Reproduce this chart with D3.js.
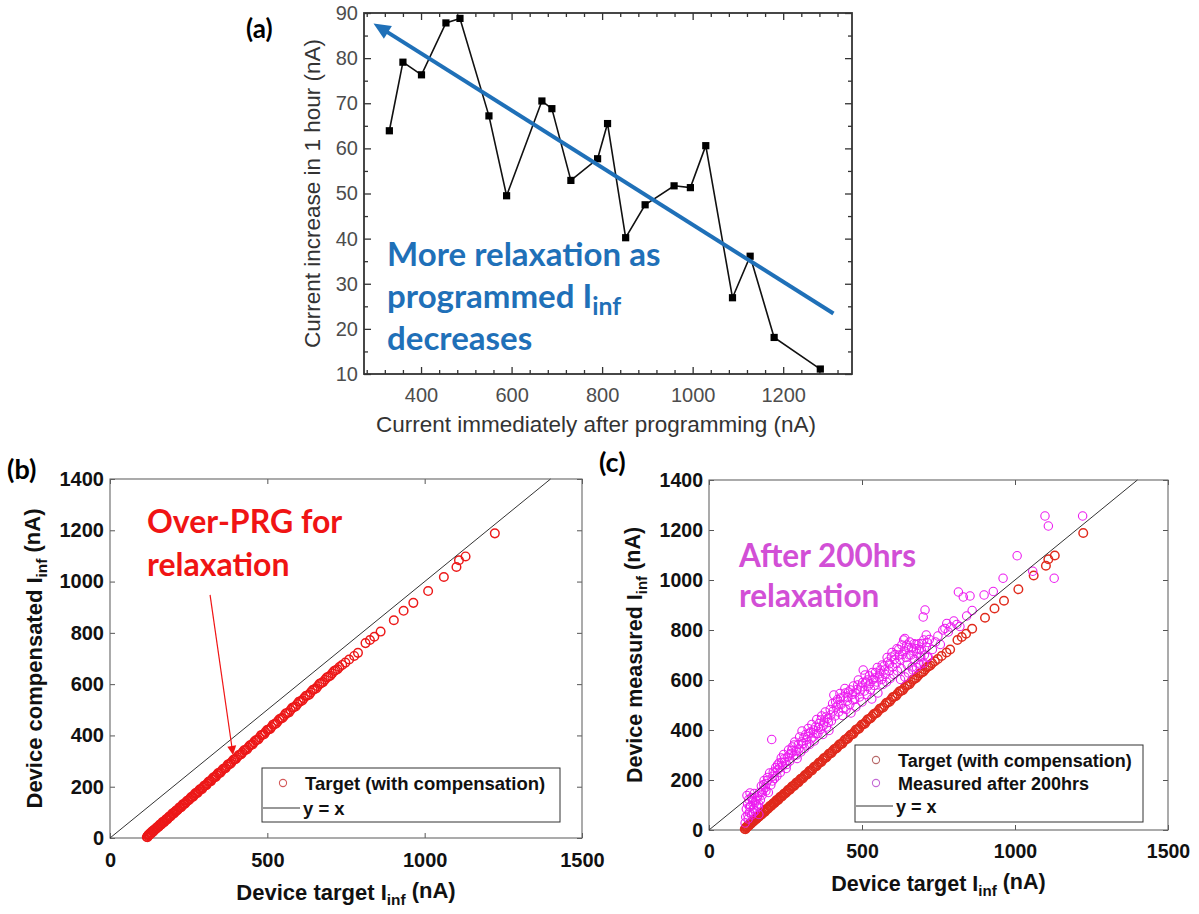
<!DOCTYPE html>
<html><head><meta charset="utf-8">
<script src="https://cdn.jsdelivr.net/npm/d3@7"></script>
<style>body{margin:0;background:#fff;}svg{display:block;}</style>
</head><body>
<svg id="chart" width="1199" height="914"></svg>
<script>
// ---------------- DATA ----------------
// Panel (a): current increase in 1 hour vs current after programming
const relaxX = [330,360,401,455,486,550,589,667,689,731,790,812,852,895,959,995,1029,1088,1127,1180,1282];
const relaxY = [63.9,79.1,76.3,87.8,88.8,67.2,49.5,70.5,68.8,52.9,57.7,65.5,40.2,47.5,51.7,51.3,60.6,26.9,36.1,18.1,11.1];
const aTicksX = [400,600,800,1000,1200];
const aMinorX = [280,320,360,440,480,520,560,640,680,720,760,840,880,920,960,1040,1080,1120,1160,1240,1280,1320];
const aTicksY = [10,20,30,40,50,60,70,80,90];
const aMinorY = [15,25,35,45,55,65,75,85];
const trendFrom = [1311, 23.4];   // blue arrow tail (data units)
const trendTo = [295, 87.7];      // blue arrow head (data units)

// Panels (b),(c): device target vs compensated target [x, y]
const targetPts = [
[117,4],[120,8],[123,11],[126,15],[129,18],[132,21],[136,25],[139,29],[143,33],[147,37],[151,42],[156,47],[160,51],[165,57],[169,61],[174,66],[179,72],[184,77],[189,83],[195,89],[200,95],[206,101],[211,106],[217,113],[223,119],[229,126],[235,132],[241,139],[248,146],[254,153],[261,160],[267,167],[274,175],[281,182],[288,190],[295,197],[302,205],[309,212],[317,221],[324,229],[332,237],[339,245],[347,254],[355,262],[363,271],[371,280],[379,288],[387,297],[396,306],[404,316],[413,325],[421,334],[430,343],[439,353],[448,363],[457,373],[466,382],[475,392],[485,403],[494,413],[504,423],[513,433],[523,444],[533,455],[543,466],[553,476],[563,487],[574,499],[584,510],[595,522],[605,533],[616,545],[627,556],[638,568],[649,580],[660,592],[671,604],[683,617],[694,629],[706,642],[717,654],[729,667],
[119,3],[122,12],[125,12],[128,19],[131,18],[134,26],[138,26],[141,33],[145,34],[149,42],[154,43],[158,52],[163,53],[167,62],[172,62],[177,72],[182,72],[187,83],[192,84],[198,95],[203,96],[209,106],[214,108],[220,119],[226,120],[232,132],[238,134],[245,145],[251,148],[258,160],[264,161],[271,174],[278,176],[285,189],[292,190],[299,204],[306,206],[313,219],[321,222],[328,236],[336,238],[343,252],[351,255],[359,269],[367,272],[375,287],[383,290],[392,305],[400,308],[409,323],[417,327],[426,342],[435,345],[444,361],[453,365],[462,380],[471,384],[480,401],[490,405],[499,421],[509,425],[518,442],[528,447],[538,463],[548,468],[558,485],[569,490],[579,508],[590,513],[600,531],[611,536],[622,554],[633,559],[644,577],[655,583],[666,601],[677,608],[689,626],[700,633],[712,651],[723,658],
[738,675],[748,684],[760,696],[776,710],[788,722],[812,760],[826,772],[840,785],[860,805],[902,849],[933,886],[964,917],[1011,963],[1061,1018],[1101,1057],[1109,1083],[1130,1098],[1223,1188]
];
// Panel (c): measured after 200 hrs [x, y]
const measuredPts = [
[118,28],[120,52],[122,84],[124,138],[126,104],[128,44],[130,122],[132,70],[134,148],[136,96],[139,60],[141,128],[143,112],[146,86],[148,146],[151,76],[153,118],[156,100],[158,136],[161,92],[163,62],[165,150],
[168,120],[171,176],[174,140],[177,160],[180,198],[184,170],[187,186],[191,210],[194,150],[198,228],[205,362],[207,196],[210,232],[214,206],[218,250],[222,216],[225,242],[229,268],[233,230],[236,288],[240,256],[244,302],[248,272],[252,246],[256,292],
[260,320],[264,276],[268,306],[272,332],[276,296],[280,352],[284,316],[288,286],[292,342],[296,372],[300,312],[304,396],[308,346],[312,326],[316,382],[320,362],[324,406],[328,342],[332,392],[336,422],[340,372],[344,356],[348,412],[352,442],[356,386],[360,426],[364,402],[368,456],[372,382],[376,432],[380,472],[384,412],[388,446],[392,398],[396,482],[400,436],
[404,506],[408,540],[412,456],[416,492],[420,522],[424,472],[428,546],[432,502],[436,458],[440,532],[444,566],[448,482],[452,516],[456,552],[460,502],[464,468],[468,542],[472,576],[476,522],[480,492],[484,562],[488,600],[492,532],[496,572],[500,512],[504,640],[508,556],[512,592],[516,542],[520,576],[524,616],[528,562],[532,524],[536,602],[540,578],[544,630],[548,592],[552,548],[556,612],[560,640],
[564,602],[568,582],[572,656],[576,622],[580,592],[584,672],[588,636],[592,606],[596,692],[600,652],[604,622],[608,702],[612,666],[616,636],[620,722],[624,682],[628,646],[632,702],[636,760],[640,766],[644,690],[648,660],[652,730],[656,752],[660,700],[664,652],[668,716],[672,682],[676,742],[680,706],[684,668],[688,722],[692,692],[696,746],[700,852],[704,700],[706,880],[710,732],[713,750],[716,692],[720,762],
[626,602],[640,612],[652,628],[666,640],[678,650],[690,662],[702,668],[714,690],
[127,60],[133,92],[138,130],[145,70],[150,110],[157,128],[162,104],[172,150],[179,182],[186,156],[193,200],[202,180],[209,215],[216,230],[224,260],[231,248],[238,270],[246,285],[254,262],[262,300],[270,318],[278,340],[286,300],[294,325],[302,352],[310,370],[318,340],[326,386],[334,365],[342,400],[350,385],[358,410],[366,440],[374,418],[382,452],[390,430],[398,460],[406,476],[414,512],[422,500],[430,528],[438,486],[446,548],[454,530],[462,560],[470,520],[478,548],[486,580],[494,556],[502,590],[510,620],[518,600],[526,585],[534,630],[542,608],[550,650],[558,625],[566,660],[574,640],[582,690],[590,665],[598,710],[606,682],[614,725],[622,700],[630,740],[638,716],[646,740],[654,700],[662,728],[670,745],[678,725],[686,745],[694,720],[702,760],[710,780],
[730,722],[740,752],[748,776],[756,742],[764,800],[771,806],[777,826],[782,792],[790,812],[800,836],[810,822],[815,952],[820,814],[831,932],[842,856],[853,936],[860,878],
[899,940],[929,954],[961,1007],[1007,1097],[1058,1035],[1098,1256],[1109,1216],[1128,1007],[1221,1256]
];
const bcTicksX = [0,500,1000,1500];
const bcTicksY = [0,200,400,600,800,1000,1200,1400];
const identity = [0,1400];
const overArrowFrom = [318,948], overArrowTo = [391,324];

// ---------------- HELPERS ----------------
const svg = d3.select("#chart");
const FONT = "'Liberation Sans', Arial, Helvetica, sans-serif";
const ANN = "Lato, 'Open Sans', sans-serif";
const fmt = d3.format("d");

function styleAxis(g, o) {
  g.select(".domain").remove();
  g.attr("font-family", null).attr("font-size", null);
  g.selectAll(".tick line").attr("stroke", o.stroke).attr("stroke-width", o.sw);
  g.selectAll(".tick text").attr("font-family", FONT).attr("font-size", o.fs)
    .attr("font-weight", o.fw).attr("fill", o.fill);
}
function arrow(g, p0, p1, color, width, headLen, headHalf) {
  const dx = p1[0]-p0[0], dy = p1[1]-p0[1], L = Math.hypot(dx,dy);
  const ux = dx/L, uy = dy/L, nx = -uy, ny = ux;
  const bx = p1[0]-ux*headLen, by = p1[1]-uy*headLen;
  g.append("line").attr("x1",p0[0]).attr("y1",p0[1]).attr("x2",bx+ux*2).attr("y2",by+uy*2)
    .attr("stroke",color).attr("stroke-width",width);
  g.append("path").attr("d",`M${p1[0]},${p1[1]}L${bx+nx*headHalf},${by+ny*headHalf}L${bx-nx*headHalf},${by-ny*headHalf}Z`)
    .attr("fill",color);
}
function subText(g, parts, attrs) {
  const t = g.append("text");
  Object.entries(attrs).forEach(([k,v]) => t.attr(k,v));
  parts.forEach(p => {
    const s = t.append("tspan").text(p.t);
    if (p.sub) s.attr("font-size", p.size || "70%").attr("dy", p.dy || "0.35em");
    if (p.back) s.attr("dy", p.back);
  });
  return t;
}

// ---------------- PANEL (a) ----------------
const xA = d3.scaleLinear().domain([274,1352]).range([364,852]);
const yA = d3.scaleLinear().domain([10,90]).range([374,13]);
const gA = svg.append("g");
const stA = {stroke:"#333", sw:1.3, fs:20, fw:400, fill:"#4d4d4d"};
const [ax0, ax1] = xA.range(), [ay0, ay1] = yA.range();
gA.append("g").attr("transform",`translate(0,${ay0})`).call(d3.axisBottom(xA).tickValues(aMinorX).tickSize(-4).tickFormat("")).call(styleAxis, stA);
gA.append("g").attr("transform",`translate(0,${ay0})`).call(d3.axisBottom(xA).tickValues(aTicksX).tickSize(-7).tickPadding(14).tickFormat(fmt)).call(styleAxis, stA);
gA.append("g").attr("transform",`translate(0,${ay1})`).call(d3.axisTop(xA).tickValues(aMinorX).tickSize(-4).tickFormat("")).call(styleAxis, stA);
gA.append("g").attr("transform",`translate(0,${ay1})`).call(d3.axisTop(xA).tickValues(aTicksX).tickSize(-7).tickFormat("")).call(styleAxis, stA);
gA.append("g").attr("transform",`translate(${ax0},0)`).call(d3.axisLeft(yA).tickValues(aMinorY).tickSize(-4).tickFormat("")).call(styleAxis, stA);
gA.append("g").attr("transform",`translate(${ax0},0)`).call(d3.axisLeft(yA).tickValues(aTicksY).tickSize(-7).tickPadding(6).tickFormat(fmt)).call(styleAxis, stA);
gA.append("g").attr("transform",`translate(${ax1},0)`).call(d3.axisRight(yA).tickValues(aMinorY).tickSize(-4).tickFormat("")).call(styleAxis, stA);
gA.append("g").attr("transform",`translate(${ax1},0)`).call(d3.axisRight(yA).tickValues(aTicksY).tickSize(-7).tickFormat("")).call(styleAxis, stA);
gA.append("rect").attr("x",ax0).attr("y",ay1).attr("width",ax1-ax0).attr("height",ay0-ay1)
  .attr("fill","none").attr("stroke","#333").attr("stroke-width",1.8);

const relax = relaxX.map((x,i)=>[x, relaxY[i]]);
gA.append("path").datum(relax).attr("d", d3.line().x(d=>xA(d[0])).y(d=>yA(d[1])))
  .attr("fill","none").attr("stroke","#111").attr("stroke-width",1.6);
gA.selectAll("rect.pt").data(relax).join("rect").attr("class","pt")
  .attr("x",d=>xA(d[0])-3.6).attr("y",d=>yA(d[1])-3.6).attr("width",7.2).attr("height",7.2).attr("fill","#000");

arrow(gA, [xA(trendFrom[0]), yA(trendFrom[1])], [xA(trendTo[0]), yA(trendTo[1])], "#1f70b8", 4, 17, 7.5);

gA.append("text").attr("x",(ax0+ax1)/2-12).attr("y",432).attr("text-anchor","middle")
  .attr("font-family",FONT).attr("font-size",22.5).attr("fill","#333").text("Current immediately after programming (nA)");
gA.append("text").attr("transform",`translate(320,${(ay0+ay1)/2}) rotate(-90)`).attr("text-anchor","middle")
  .attr("font-family",FONT).attr("font-size",22.5).attr("fill","#333").text("Current increase in 1 hour (nA)");

const blue = {"font-family":ANN,"font-weight":700,"font-size":33,"fill":"#1f70b8"};
subText(gA,[{t:"More relaxation as"}],{...blue, x:xA(325), y:yA(33.9)});
subText(gA,[{t:"programmed I"},{t:"inf",sub:true,size:"75%",dy:"0.28em"}],{...blue, x:xA(325), y:yA(24.6)});
subText(gA,[{t:"decreases"}],{...blue, x:xA(325), y:yA(15.3)});
svg.append("text").attr("x",246).attr("y",38).attr("font-family",ANN).attr("font-weight",700)
  .attr("font-size",26).attr("fill","#000").text("(a)");

// ---------------- PANELS (b),(c) ----------------
function scatterPanel(cfg) {
  const x = d3.scaleLinear().domain([0,1500]).range(cfg.xr);
  const y = d3.scaleLinear().domain([0,1400]).range(cfg.yr);
  const g = svg.append("g");
  const st = {stroke:"#555", sw:1, fs:cfg.fs, fw:700, fill:"#111"};
  const [x0,x1] = x.range(), [y0,y1] = y.range();
  g.append("g").attr("transform",`translate(0,${y0})`).call(d3.axisBottom(x).tickValues(bcTicksX).tickSize(-5).tickPadding(cfg.xPad).tickFormat(fmt)).call(styleAxis, st);
  g.append("g").attr("transform",`translate(0,${y1})`).call(d3.axisTop(x).tickValues(bcTicksX).tickSize(-5).tickFormat("")).call(styleAxis, st);
  g.append("g").attr("transform",`translate(${x0},0)`).call(d3.axisLeft(y).tickValues(bcTicksY).tickSize(-5).tickPadding(6).tickFormat(fmt)).call(styleAxis, st);
  g.append("g").attr("transform",`translate(${x1},0)`).call(d3.axisRight(y).tickValues(bcTicksY).tickSize(-5).tickFormat("")).call(styleAxis, st);
  g.append("rect").attr("x",x0).attr("y",y1).attr("width",x1-x0).attr("height",y0-y1)
    .attr("fill","none").attr("stroke","#666").attr("stroke-width",1.1);

  g.selectAll("circle.t").data(targetPts).join("circle").attr("class","t")
    .attr("cx",d=>x(d[0])).attr("cy",d=>y(d[1])).attr("r",4.3)
    .attr("fill","none").attr("stroke",cfg.targetColor).attr("stroke-width",1.45);
  if (cfg.measured) {
    g.selectAll("circle.m").data(measuredPts).join("circle").attr("class","m")
      .attr("cx",d=>x(d[0])).attr("cy",d=>y(d[1])).attr("r",4.2)
      .attr("fill","none").attr("stroke","#ec1cf0").attr("stroke-width",1.1);
  }
  g.append("line").attr("x1",x(identity[0])).attr("y1",y(identity[0])).attr("x2",x(identity[1])).attr("y2",y(identity[1]))
    .attr("stroke","#333").attr("stroke-width",1);

  // titles
  const tAttrs = {"font-family":FONT,"font-weight":700,"font-size":cfg.tfs,"fill":"#111","text-anchor":"middle"};
  subText(g,[{t:"Device target I"},{t:"inf",sub:true},{t:" (nA)",back:"-0.35em"}],{...tAttrs, x:(x0+x1)/2, y:cfg.xTitleY});
  subText(g,[{t:cfg.yTitle},{t:"inf",sub:true},{t:" (nA)",back:"-0.35em"}],{...tAttrs, transform:`translate(${cfg.yTitleX},${(y0+y1)/2}) rotate(-90)`});

  // legend
  const L = cfg.legend;
  const lg = g.append("g");
  lg.append("rect").attr("x",L.x).attr("y",L.y).attr("width",L.w).attr("height",L.h)
    .attr("fill","#fff").attr("stroke","#333").attr("stroke-width",1);
  L.items.forEach((it,i) => {
    const cy = L.y + L.first + i*L.step;
    if (it.type === "circle") {
      lg.append("circle").attr("cx",L.x+21).attr("cy",cy).attr("r",3.6).attr("fill","none")
        .attr("stroke",it.color).attr("stroke-width",1.1);
    } else {
      lg.append("line").attr("x1",L.x+1).attr("x2",L.x+38).attr("y1",cy).attr("y2",cy)
        .attr("stroke","#333").attr("stroke-width",1.2);
    }
    lg.append("text").attr("x",L.x+(it.type==="circle"?43:41)).attr("y",cy+7).attr("font-family",FONT)
      .attr("font-weight",700).attr("font-size",L.fs).attr("fill","#111").text(it.label);
  });
  return {x, y, g};
}

const B = scatterPanel({xr:[110,582], yr:[838,479], fs:20, tfs:22, xPad:15, xTitleY:900, yTitleX:42,
  yTitle:"Device compensated I", targetColor:"#ec1818", measured:false,
  legend:{x:262,y:768,w:298,h:54,first:15,step:25,fs:18.5,items:[
    {type:"circle",color:"#d45a5a",label:"Target (with compensation)"},
    {type:"line",label:"y = x"}]}});
const C = scatterPanel({xr:[709,1168], yr:[830,480], fs:19.5, tfs:21.5, xPad:14, xTitleY:891, yTitleX:642,
  yTitle:"Device measured I", targetColor:"#e02a1c", measured:true,
  legend:{x:855,y:745,w:288,h:77,first:15,step:23,fs:18,items:[
    {type:"circle",color:"#b86a6a",label:"Target (with compensation)"},
    {type:"circle",color:"#c46ad6",label:"Measured after 200hrs"},
    {type:"line",label:"y = x"}]}});

// annotations (b)
const red = {"font-family":ANN,"font-weight":700,"font-size":32,"fill":"#f01414"};
subText(B.g,[{t:"Over-PRG for"}],{...red, x:B.x(117.6), y:B.y(1189)});
subText(B.g,[{t:"relaxation"}],{...red, x:B.x(117.6), y:B.y(1022)});
arrow(B.g, [B.x(overArrowFrom[0]),B.y(overArrowFrom[1])], [B.x(overArrowTo[0]),B.y(overArrowTo[1])], "#f01414", 1.2, 9, 4.5);
svg.append("text").attr("x",7).attr("y",479).attr("font-family",ANN).attr("font-weight",700)
  .attr("font-size",27).attr("fill","#000").text("(b)");

// annotations (c)
const mag = {"font-family":ANN,"font-weight":700,"font-size":31.5,"fill":"#d24fd6"};
subText(C.g,[{t:"After 200hrs"}],{...mag, x:C.x(98), y:C.y(1052)});
subText(C.g,[{t:"relaxation"}],{...mag, x:C.x(98), y:C.y(892)});
svg.append("text").attr("x",599).attr("y",472).attr("font-family",ANN).attr("font-weight",700)
  .attr("font-size",27).attr("fill","#000").text("(c)");
</script>
</body></html>
